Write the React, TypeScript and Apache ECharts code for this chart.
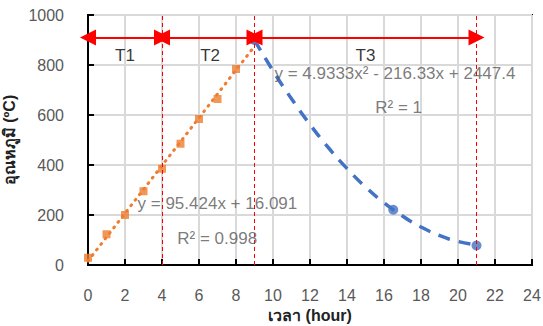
import React, { useEffect, useRef } from "react";
import * as echarts from "echarts";

// Heating phase (T1 + T2): measured temperatures
const heatX = [0, 1, 2, 3, 4, 5, 6, 7, 8, 9];
const heatY = [29, 123, 200, 295, 385, 485, 584, 664, 784, 900];

// Cooling phase (T3): measured temperatures
const coolX = [9, 16.5, 21];
const coolY = [900, 221, 78];

// Linear trendline
const linTrendX = [0, 9];
const linTrendY = [16, 875];

// Polynomial trendline
const polyTrendX = [9, 10, 11, 12, 13, 14, 15, 16, 17, 18, 19, 20, 21];
const polyTrendY = [900, 777, 665, 562, 469, 386, 312, 249, 196, 152, 118, 94, 80];

// Phase boundaries and labels
const phaseBounds = [0, 4, 9, 21];
const phaseNames = ["T1", "T2", "T3"];
const phaseArrowY = 910;
const phaseLabelY = 840;

// Trendline annotations
const eqTexts = ["y = 95.424x + 16.091", "R² = 0.998", "y = 4.9333x² - 216.33x + 2447.4", "R² = 1"];
const eqPosX = [2.65, 4.8, 10.05, 15.5];
const eqPosY = [248, 108, 768, 632];

const xTicks = { min: 0, max: 24, interval: 2 };
const yTicks = { min: 0, max: 1000, interval: 200 };

const pairs = (xs: number[], ys: number[]) => xs.map((x, i) => [x, ys[i]]);

export default function App() {
  const ref = useRef<HTMLDivElement>(null);
  useEffect(() => {
    if (!ref.current) return;
    const chart = echarts.init(ref.current, null, { renderer: "svg" });
    const font = "'Liberation Sans', 'Noto Sans', 'DejaVu Sans', sans-serif";
    const arrowLines = phaseNames.map((_, i) => [
      { coord: [phaseBounds[i], phaseArrowY] },
      { coord: [phaseBounds[i + 1], phaseArrowY] },
    ]);
    const phaseLabelData = phaseNames.map((n, i) => ({
      value: [(phaseBounds[i] + phaseBounds[i + 1]) / 2 + (i === 1 ? 0.1 : 0), phaseLabelY],
      label: { formatter: n },
    }));
    const eqData = eqTexts.map((t, i) => ({
      value: [eqPosX[i], eqPosY[i]],
      label: { formatter: t },
    }));
    chart.setOption({
      animation: false,
      textStyle: { fontFamily: font },
      grid: {
        left: 88,
        right: 11,
        top: 15,
        bottom: 61,
        containLabel: false,
        outerBoundsMode: "none",
        show: true,
        borderColor: "#000",
        borderWidth: 2,
        backgroundColor: "transparent",
      },
      xAxis: {
        type: "value",
        min: xTicks.min,
        max: xTicks.max,
        interval: xTicks.interval,
        name: "เวลา (hour)",
        nameLocation: "middle",
        nameGap: 37,
        nameTextStyle: { fontSize: 16, fontWeight: "bold", color: "#222", fontFamily: font },
        axisLine: { show: true, lineStyle: { color: "#000", width: 2 } },
        axisTick: { show: true, inside: true, length: 6, lineStyle: { color: "#000", width: 2 } },
        axisLabel: { fontSize: 16, color: "#595959", margin: 22 },
        splitLine: { show: true, lineStyle: { color: "#d9d9d9", width: 2 } },
      },
      yAxis: {
        type: "value",
        min: yTicks.min,
        max: yTicks.max,
        interval: yTicks.interval,
        name: "อุณหภูมิ (ºC)",
        nameLocation: "middle",
        nameGap: 60,
        nameTextStyle: { fontSize: 16, fontWeight: "bold", color: "#222", fontFamily: font },
        axisLine: { show: true, lineStyle: { color: "#000", width: 2 } },
        axisTick: { show: true, inside: true, length: 6, lineStyle: { color: "#000", width: 2 } },
        axisLabel: { fontSize: 16, color: "#595959", margin: 24, formatter: (v: number) => String(v) },
        splitLine: { show: true, lineStyle: { color: "#d9d9d9", width: 2 } },
      },
      series: [
        {
          type: "line",
          name: "linear trend",
          data: pairs(linTrendX, linTrendY),
          showSymbol: false,
          lineStyle: { color: "#ED7D31", width: 3, type: [1, 6], cap: "round" },
          z: 2,
        },
        {
          type: "line",
          name: "poly trend",
          data: pairs(polyTrendX, polyTrendY),
          showSymbol: false,
          smooth: true,
          lineStyle: { color: "#4472C4", width: 3.5, type: [12, 9] },
          z: 2,
        },
        {
          type: "scatter",
          name: "heating",
          data: pairs(heatX, heatY),
          symbol: "rect",
          symbolSize: 8,
          itemStyle: { color: "#ED7D31" },
          z: 3,
        },
        {
          type: "scatter",
          name: "cooling",
          data: pairs(coolX, coolY),
          symbol: "circle",
          symbolSize: 10,
          itemStyle: { color: "#4472C4" },
          z: 4,
        },
        {
          type: "scatter",
          name: "markers",
          data: [],
          markLine: {
            silent: true,
            symbol: "none",
            label: { show: false },
            itemStyle: { color: "#ff0000" },
            lineStyle: { color: "#ff0000", width: 1, type: [4, 3] },
            data: phaseBounds.slice(1).map((b) => ({ xAxis: b })),
          },
          z: 5,
        },
        {
          type: "scatter",
          name: "arrows",
          data: [],
          markLine: {
            silent: true,
            symbol: ["triangle", "triangle"],
            symbolSize: 16,
            label: { show: false },
            lineStyle: { color: "#ff0000", width: 2, type: "solid" },
            itemStyle: { color: "#ff0000" },
            data: arrowLines,
          },
          z: 6,
        },
        {
          type: "scatter",
          name: "phase labels",
          data: phaseLabelData,
          symbolSize: 1,
          itemStyle: { color: "transparent" },
          label: { show: true, position: "inside", fontSize: 17, color: "#000", fontWeight: 500 },
          z: 7,
        },
        {
          type: "scatter",
          name: "equations",
          data: eqData,
          symbolSize: 1,
          itemStyle: { color: "transparent" },
          label: { show: true, position: "right", distance: 0, fontSize: 17, color: "#595959" },
          z: 7,
        },
      ],
    });
    return () => chart.dispose();
  }, []);
  return <div ref={ref} style={{ width: 543, height: 326, position: "absolute", left: 0, top: 0, background: "#fff" }} />;
}
